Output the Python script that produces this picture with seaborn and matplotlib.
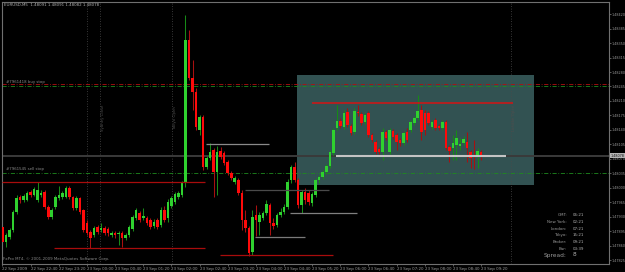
import matplotlib
matplotlib.use("Agg")
import matplotlib.pyplot as plt
import numpy as np
import pandas as pd
import seaborn as sns
from matplotlib.patches import Rectangle

# ---------------- data (EURUSD M5, prices in points of 1e-5) ----------------
opens = [
    147906, 147870, 147882, 147899, 147942, 147978, 147971, 147971, 147990, 147983,
    147971, 147983, 147990, 147954, 147930, 147954, 147976, 147978, 147978, 148000,
    147978, 147952, 147976, 147947, 147915, 147894, 147886, 147906, 147899, 147903,
    147901, 147886, 147891, 147889, 147891, 147879, 147886, 147901, 147928, 147940,
    147928, 147928, 147923, 147908, 147923, 147911, 147947, 147928, 147957, 147966,
    147978, 147983, 148012, 148357, 148265, 148232, 148140, 148171, 148051, 148072,
    148092, 148039, 148089, 148084, 148063, 148036, 148015, 148019, 147988, 147923,
    147903, 147846, 147935, 147918, 147928, 147940, 147959, 147915, 147911, 147935,
    147942, 147954, 148019, 148051, 148019, 147959, 147990, 147988, 147964, 147983,
    148019, 148027, 148039, 148053, 148084, 148145, 148162, 148147, 148183, 148150,
    148135, 148183, 148179, 148159, 148181, 148128, 148111, 148094, 148087, 148135,
    148087, 148138, 148128, 148116, 148109, 148135, 148140, 148157, 148169, 148188,
    148181, 148181, 148147, 148164, 148150, 148145, 148159, 148099, 148097, 148104,
    148101, 148109, 148111, 148087, 148080, 148077, 148087]
closes = [
    147870, 147886, 147899, 147942, 147976, 147971, 147981, 147988, 147983, 147998,
    147995, 147988, 147954, 147930, 147947, 147978, 147983, 147988, 148000, 147978,
    147952, 147976, 147942, 147899, 147891, 147879, 147903, 147894, 147903, 147891,
    147891, 147891, 147886, 147891, 147879, 147886, 147906, 147930, 147947, 147923,
    147932, 147915, 147906, 147918, 147906, 147947, 147923, 147966, 147976, 147986,
    147988, 148012, 148357, 148265, 148232, 148147, 148171, 148051, 148072, 148087,
    148039, 148087, 148075, 148060, 148036, 148024, 148024, 147988, 147923, 147903,
    147843, 147930, 147923, 147935, 147940, 147961, 147915, 147908, 147935, 147942,
    147954, 148015, 148051, 148019, 147959, 147990, 147971, 147966, 147986, 148019,
    148027, 148039, 148053, 148087, 148140, 148162, 148150, 148181, 148152, 148133,
    148186, 148181, 148157, 148176, 148128, 148116, 148087, 148087, 148135, 148121,
    148140, 148123, 148111, 148109, 148133, 148116, 148159, 148169, 148186, 148135,
    148140, 148157, 148159, 148145, 148145, 148159, 148097, 148089, 148109, 148121,
    148106, 148118, 148097, 148072, 148075, 148089, 148078]
highs = [
    147911, 147891, 147903, 147947, 147983, 147983, 147986, 147993, 147995, 148002,
    148015, 147995, 147995, 147959, 147952, 147983, 148005, 147993, 148005, 148005,
    147981, 147981, 147978, 147949, 147923, 147899, 147908, 147911, 147915, 147908,
    147906, 147896, 147896, 147896, 147896, 147891, 147911, 147935, 147952, 147944,
    147952, 147932, 147928, 147925, 147928, 147954, 147957, 147973, 147981, 147990,
    147993, 148017, 148418, 148381, 148309, 148241, 148176, 148176, 148077, 148109,
    148097, 148101, 148099, 148089, 148068, 148041, 148029, 148024, 147995, 147947,
    147908, 147947, 147959, 147942, 147944, 147971, 147964, 147928, 147940, 147952,
    147961, 148022, 148055, 148063, 148024, 147995, 148000, 147995, 147990, 148024,
    148031, 148043, 148058, 148092, 148145, 148200, 148169, 148188, 148193, 148154,
    148193, 148200, 148183, 148181, 148186, 148133, 148116, 148099, 148145, 148140,
    148145, 148142, 148133, 148121, 148138, 148145, 148164, 148174, 148224, 148200,
    148188, 148186, 148164, 148169, 148154, 148164, 148164, 148104, 148128, 148140,
    148121, 148126, 148135, 148092, 148116, 148097, 148092]
lows = [
    147865, 147858, 147877, 147894, 147937, 147964, 147966, 147969, 147978, 147981,
    147966, 147978, 147949, 147925, 147925, 147949, 147971, 147973, 147976, 147973,
    147947, 147947, 147937, 147894, 147886, 147855, 147882, 147889, 147894, 147886,
    147884, 147882, 147879, 147862, 147858, 147874, 147882, 147896, 147923, 147918,
    147923, 147911, 147901, 147903, 147901, 147906, 147918, 147918, 147952, 147961,
    147973, 147978, 148002, 148261, 148188, 148140, 148128, 148043, 148046, 148068,
    147978, 147983, 148070, 148055, 148031, 148019, 148010, 147983, 147899, 147894,
    147836, 147838, 147884, 147886, 147923, 147935, 147886, 147901, 147906, 147930,
    147937, 147949, 148012, 148015, 147952, 147940, 147961, 147959, 147957, 147978,
    148012, 148022, 148034, 148048, 148080, 148140, 148145, 148142, 148147, 148128,
    148130, 148174, 148152, 148154, 148123, 148111, 148082, 148082, 148068, 148116,
    148082, 148118, 148092, 148101, 148104, 148111, 148135, 148152, 148164, 148116,
    148128, 148152, 148142, 148140, 148140, 148140, 148092, 148063, 148068, 148068,
    148092, 148104, 148063, 148048, 148046, 148048, 148068]

time_labels = ["22 Sep 2009", "22 Sep 22:40", "22 Sep 23:20", "23 Sep 00:00",
               "23 Sep 00:40", "23 Sep 01:20", "23 Sep 02:00", "23 Sep 02:40",
               "23 Sep 03:20", "23 Sep 04:00", "23 Sep 04:40", "23 Sep 05:20",
               "23 Sep 06:00", "23 Sep 06:40", "23 Sep 07:20", "23 Sep 08:00",
               "23 Sep 08:40", "23 Sep 09:20"]
price_ticks = [1.48420, 1.48385, 1.48350, 1.48315, 1.48280, 1.48245, 1.48210,
               1.48175, 1.48140, 1.48105, 1.48070, 1.48035, 1.48000, 1.47965,
               1.47930, 1.47895, 1.47860, 1.47825]
bid_price = 1.48078
title_text = "EURUSD,M5  1.48091 1.48091 1.48082 1.48078"

# red support lines: price, start bar, end bar
red_prices = [1.48015, 1.47854, 1.47838]
red_start = [0, 14.6, 61.8]
red_end = [57.5, 57.5, 93.9]
# grey lines
grey_prices = [1.48105, 1.47994, 1.47940, 1.47882]
grey_start = [57.8, 68.9, 81.7, 71.7]
grey_end = [75.7, 92.8, 100.7, 85.9]
grey_colors = ["#8a8a8a", "#4a4a4a", "#808080", "#7a7a7a"]
# range box and its lines
box_bars = [83.7, 151.0]
box_prices = [1.48008, 1.48273]
resist_price, resist_bars = 1.48205, [87.9, 145.0]
support_price, support_bars = 1.48077, [94.7, 143.0]
# pending orders
order_prices = [1.48250, 1.48245, 1.48035]
order_colors = ["#b01010", "#1f8a1f", "#1f8a1f"]
order_labels = ["#7961418 buy stop", "#7961545 sell stop"]
order_label_prices = [1.48252, 1.48042]
# sessions (bar index)
sep_bars = [24, 27.8, 48.2, 144.4]
session_names = [(27.8, "Sydney Close"), (48.2, "Tokyo Open"), (144.4, "London Open")]
info_names = ["GMT:", "New York:", "London:", "Tokyo:", "Broker:", "Bar:"]
info_values = ["06:21", "02:21", "07:21", "15:21", "09:21", "03:39"]

# ---------------- build frame ----------------
df = pd.DataFrame({"open": opens, "close": closes, "high": highs, "low": lows}) / 1e5
df["bar"] = np.arange(len(df))
df["up"] = df["close"] >= df["open"]

sns.set_theme(style="dark", rc={"axes.facecolor": "black", "figure.facecolor": "black",
                                "axes.grid": False})
plt.rcParams["font.family"] = ["DejaVu Sans"]

W, H = 625, 272
fig = plt.figure(figsize=(W / 100, H / 100), dpi=100, facecolor="black")
ax = fig.add_axes([2 / W, 1 - 263.5 / H, (608.5 - 2) / W, (263.5 - 1.5) / H])
ax.set_facecolor("black")
ax.set_xlim(-0.14, 172.2)
ax.set_ylim(1.478177, 1.484502)

# box
ax.add_patch(Rectangle((box_bars[0], box_prices[0]), box_bars[1] - box_bars[0],
                       box_prices[1] - box_prices[0], facecolor="#325252",
                       edgecolor="none", zorder=0.5))

# session separators
for b in sep_bars:
    ax.axvline(b, color="#4a4a4a", lw=0.6, ls=(0, (1, 2)), zorder=0.6)
for b, name in session_names:
    ax.text(b + 0.9, 1.48170, name, rotation=90, fontsize=2.8, color="#4e4e4e",
            ha="center", va="center", zorder=0.7)

# bid line
ax.axhline(bid_price, color="#3a3a3a", lw=1.4, zorder=0.8)

# order lines
for p, c in zip(order_prices, order_colors):
    ax.axhline(p, color=c, lw=0.6, ls=(0, (5, 2, 1, 2)), zorder=0.9)
for lab, p in zip(order_labels, order_label_prices):
    ax.text(1.0, p, lab, fontsize=2.8, color="#8a8a8a", ha="left", va="bottom", zorder=1)

# candles
col_body = np.where(df["up"], "#2fd12f", "#ff0a0a")
col_wick = np.where(df["up"], "#178a17", "#a81010")
ax.vlines(df["bar"], df["low"], df["high"], colors=col_wick, lw=0.75, zorder=2)
ax.bar(df["bar"], df["close"] - df["open"], bottom=df["open"], width=0.72,
       color=col_body, linewidth=0, zorder=3)

# horizontal levels
for p, s, e in zip(red_prices, red_start, red_end):
    ax.hlines(p, s, e, color="#a80c0c", lw=0.9, zorder=4)
for p, s, e, c in zip(grey_prices, grey_start, grey_end, grey_colors):
    ax.hlines(p, s, e, color=c, lw=0.9, zorder=4)
ax.hlines(resist_price, *resist_bars, color="#d41414", lw=1.1, zorder=4)
ax.hlines(support_price, *support_bars, color="#c4c4c4", lw=1.5, zorder=4)

# axes styling
for sp in ax.spines.values():
    sp.set_color("#707070")
    sp.set_linewidth(0.8)
ax.yaxis.tick_right()
ax.set_yticks(price_ticks)
ax.set_yticklabels([f"{v:.5f}" for v in price_ticks])
ax.set_xticks(np.arange(0, 8 * len(time_labels), 8))
ax.set_xticklabels(time_labels)
for lab in ax.get_xticklabels():
    lab.set_horizontalalignment("left")
ax.tick_params(axis="y", which="both", right=True, left=False, length=1.4, width=0.5,
               color="#808080", labelsize=2.45, labelcolor="#9a9a9a", pad=0.6)
ax.tick_params(axis="x", which="both", bottom=True, length=1.6, width=0.5,
               color="#808080", labelsize=2.9, labelcolor="#9a9a9a", pad=0.6)
ax.set_xlabel("")
ax.set_ylabel("")

# current price tag
ax.text(1.0035, bid_price, f"{bid_price:.5f}", transform=ax.get_yaxis_transform(),
        fontsize=2.45, color="#101010", ha="left", va="center", clip_on=False,
        bbox=dict(boxstyle="square,pad=0.15", fc="#b4b4b4", ec="none"), zorder=6)

# texts
def px(x, y):
    return x / W, 1 - y / H

fig.text(*px(4, 4.5), title_text, fontsize=2.9, color="#b0b0b0", ha="left", va="center")
fig.text(*px(3, 259), "FxPro MT4, \u00a9 2001-2009 MetaQuotes Software Corp.",
         fontsize=2.9, color="#8a8a8a", ha="left", va="center")
rows_y = [215, 222, 228.5, 235, 242, 248.5]
for yy, n, v in zip(rows_y, info_names, info_values):
    fig.text(*px(567, yy), n, fontsize=2.9, color="#9a9a9a", ha="right", va="center")
    fig.text(*px(573, yy), v, fontsize=2.9, color="#b0b0b0", ha="left", va="center")
fig.text(*px(567, 255), "Spread:", fontsize=4.2, color="#9a9a9a", ha="right", va="center")
fig.text(*px(573, 255), "8", fontsize=4.2, color="#b0b0b0", ha="left", va="center")

fig.savefig("out.png", dpi=100, facecolor="black")
